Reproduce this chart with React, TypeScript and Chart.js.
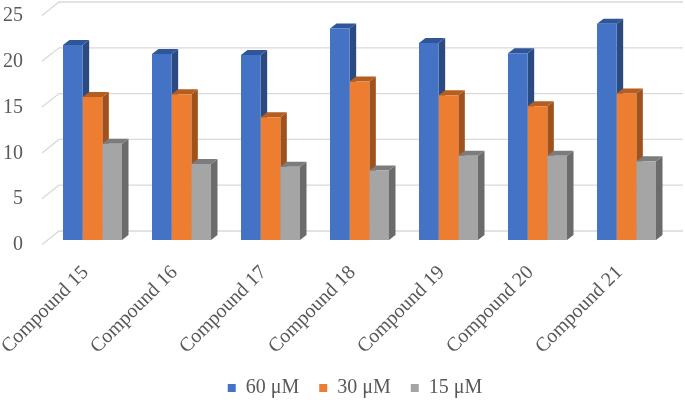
import { useEffect, useRef } from 'react';
import { Chart, registerables } from 'chart.js';

Chart.register(...registerables);

const categories = [
  'Compound 15',
  'Compound 16',
  'Compound 17',
  'Compound 18',
  'Compound 19',
  'Compound 20',
  'Compound 21',
];
const seriesLabels = ['60 μM', '30 μM', '15 μM'];
const values60 = [21.3, 20.3, 20.2, 23.1, 21.5, 20.4, 23.6];
const values30 = [15.6, 15.9, 13.4, 17.3, 15.8, 14.6, 16.0];
const values15 = [10.5, 8.3, 8.0, 7.6, 9.2, 9.2, 8.6];
const yTicks = [0, 5, 10, 15, 20, 25];

const FONT = "'Liberation Serif', 'Times New Roman', serif";
const TEXT = '#595959';

const frontColors = ['#4472C4', '#ED7D31', '#A5A5A5'];
const sideColors = ['#2B4A82', '#A0521D', '#6B6B6B'];
const topColors = ['#30569A', '#B45E22', '#7C7C7C'];

// depth of the fake 3d boxes
const DX = 6.5;
const DY = 5;

const fake3d = {
  id: 'fake3d',
  beforeDatasetsDraw(chart: any) {
    const { ctx, chartArea, scales } = chart;
    const { left, right } = chartArea;
    ctx.save();

    // back wall grid + the little diagonals on the left side wall
    ctx.strokeStyle = '#D9D9D9';
    ctx.lineWidth = 1.3;
    yTicks.forEach((v) => {
      const p = scales.y.getPixelForValue(v);
      ctx.beginPath();
      ctx.moveTo(left - 6, p + 4.5);
      ctx.lineTo(left + 11, p - 9);
      ctx.lineTo(right + 12, p - 9);
      ctx.stroke();
    });

    // side and top faces, fronts are drawn by chart.js afterwards
    chart.data.datasets.forEach((_ds: any, i: number) => {
      const meta = chart.getDatasetMeta(i);
      meta.data.forEach((bar: any) => {
        const { x, y, base, width } = bar.getProps(['x', 'y', 'base', 'width'], true);
        const l = x - width / 2;
        const r = x + width / 2;
        ctx.fillStyle = sideColors[i];
        ctx.beginPath();
        ctx.moveTo(r, base);
        ctx.lineTo(r, y);
        ctx.lineTo(r + DX, y - DY);
        ctx.lineTo(r + DX, base - DY);
        ctx.closePath();
        ctx.fill();
        ctx.fillStyle = topColors[i];
        ctx.beginPath();
        ctx.moveTo(l, y);
        ctx.lineTo(r, y);
        ctx.lineTo(r + DX, y - DY);
        ctx.lineTo(l + DX, y - DY);
        ctx.closePath();
        ctx.fill();
      });
    });
    ctx.restore();
  },
};

const App = () => {
  const chartRef = useRef<HTMLCanvasElement>(null);
  const chartInstance = useRef<Chart | null>(null);

  useEffect(() => {
    document.body.style.margin = '0';
    if (!chartRef.current) return;
    const ctx = chartRef.current.getContext('2d');
    if (!ctx) return;

    if (chartInstance.current) {
      chartInstance.current.destroy();
    }

    const seriesValues = [values60, values30, values15];

    chartInstance.current = new Chart(ctx, {
      type: 'bar',
      data: {
        labels: categories,
        datasets: seriesValues.map((vals, i) => ({
          label: seriesLabels[i],
          data: vals,
          backgroundColor: frontColors[i],
          borderWidth: 0,
          categoryPercentage: 0.663,
          barPercentage: 1,
        })),
      },
      options: {
        responsive: false,
        animation: false,
        layout: {
          // negative right padding only widens the legend box so it centres like the original
          padding: { top: 11, left: 0, right: -25, bottom: -8 },
        },
        plugins: {
          tooltip: { enabled: false },
          legend: {
            position: 'bottom',
            labels: {
              boxWidth: 8,
              boxHeight: 8,
              padding: 20,
              color: TEXT,
              font: { family: FONT, size: 20 },
            },
          },
        },
        scales: {
          x: {
            grid: { display: false, drawTicks: false },
            border: { display: false },
            ticks: {
              color: TEXT,
              font: { family: FONT, size: 20 },
              minRotation: 45,
              maxRotation: 45,
              autoSkip: false,
              padding: 21,
              labelOffset: -7,
            },
            afterFit: (s: any) => {
              s.height = 118;
              s.paddingLeft = 0;
              s.paddingRight = 14;
            },
          },
          y: {
            min: 0,
            max: 25,
            grid: { display: false, drawTicks: false },
            border: { display: false },
            ticks: {
              stepSize: 5,
              color: TEXT,
              font: { family: FONT, size: 20 },
              padding: 25,
              labelOffset: 5,
            },
            afterFit: (s: any) => {
              s.width = 48;
              s.paddingTop = 0;
              s.paddingBottom = 0;
            },
          },
        },
      },
      plugins: [fake3d],
    });

    return () => {
      if (chartInstance.current) {
        chartInstance.current.destroy();
        chartInstance.current = null;
      }
    };
  }, []);

  return (
    <div style={{ width: '685px', height: '400px' }}>
      <canvas ref={chartRef} width={685} height={400} style={{ width: '685px', height: '400px' }} />
    </div>
  );
};

export default App;
